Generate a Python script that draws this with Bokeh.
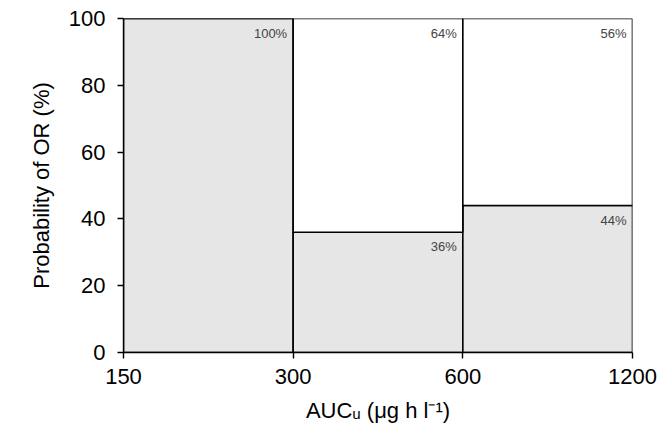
from bokeh.plotting import figure
from bokeh.models import FixedTicker, Range1d, ColumnDataSource, CustomJSTickFormatter
from bokeh.embed import file_html
from bokeh.resources import INLINE
from bokeh.core.properties import value

# AUC_u exposure bins (edges) and probability of objective response per bin
bin_left = [150, 300, 600]
bin_right = [300, 600, 1200]
response_pct = [100, 36, 44]
no_response_pct = [0, 64, 56]
x_ticks = [150, 300, 600, 1200]
y_ticks = [0, 20, 40, 60, 80, 100]

FONT = "Liberation Sans"

p = figure(width=663, height=437, x_axis_type="log", output_backend="svg",
           toolbar_location=None, x_range=Range1d(150, 1200), y_range=Range1d(0, 100),
           min_border_left=123, min_border_right=31, min_border_top=18, min_border_bottom=85)
p.outline_line_color = None
p.xgrid.grid_line_color = None
p.ygrid.grid_line_color = None
p.background_fill_color = "white"

src = ColumnDataSource(dict(
    left=bin_left, right=bin_right,
    resp=response_pct,
    top=[r + n for r, n in zip(response_pct, no_response_pct)],
    resp_lbl=[f"{v}%" for v in response_pct],
    nores_lbl=[f"{v}%" if v > 0 else "" for v in no_response_pct],
))

# grey: responders, white: non-responders stacked above
p.quad(left="left", right="right", bottom=0, top="resp", source=src,
       fill_color="#e6e6e6", line_color="black", line_width=1.6)
p.quad(left="left", right="right", bottom="resp", top="top", source=src,
       fill_color="white", line_color="black", line_width=1.6)

# percentage labels in the top-right corner of each box
p.text(x="right", y="resp", text="resp_lbl", source=src, x_offset=-6, y_offset=7,
       text_align="right", text_baseline="top", text_font_size="13px",
       text_font=value(FONT), text_color="#444444")
p.text(x="right", y="top", text="nores_lbl", source=src, x_offset=-6, y_offset=7,
       text_align="right", text_baseline="top", text_font_size="13px",
       text_font=value(FONT), text_color="#444444")

for ax in (p.xaxis[0], p.yaxis[0]):
    ax.axis_line_color = "black"
    ax.axis_line_width = 1.4
    ax.major_tick_line_color = "black"
    ax.major_tick_line_width = 1.4
    ax.major_tick_in = 0
    ax.major_tick_out = 6
    ax.minor_tick_line_color = None
    ax.major_label_text_font = FONT
    ax.major_label_text_font_size = "22px"
    ax.major_label_text_color = "black"
    ax.axis_label_text_font = FONT
    ax.axis_label_text_font_size = "22px"
    ax.axis_label_text_font_style = "normal"
    ax.axis_label_text_color = "black"

p.xaxis.ticker = FixedTicker(ticks=x_ticks)
p.xaxis.formatter = CustomJSTickFormatter(code="return tick.toFixed(0);")
p.xaxis.major_label_standoff = 10
p.xaxis.axis_label = "AUCᵤ (μg h l⁻¹)"
p.xaxis.axis_label_standoff = 11

p.yaxis.ticker = FixedTicker(ticks=y_ticks)
p.yaxis.major_label_standoff = 12
p.yaxis.axis_label = "Probability of OR (%)"
p.yaxis.axis_label_standoff = 12

open("out.html", "w").write(file_html(p, INLINE))
